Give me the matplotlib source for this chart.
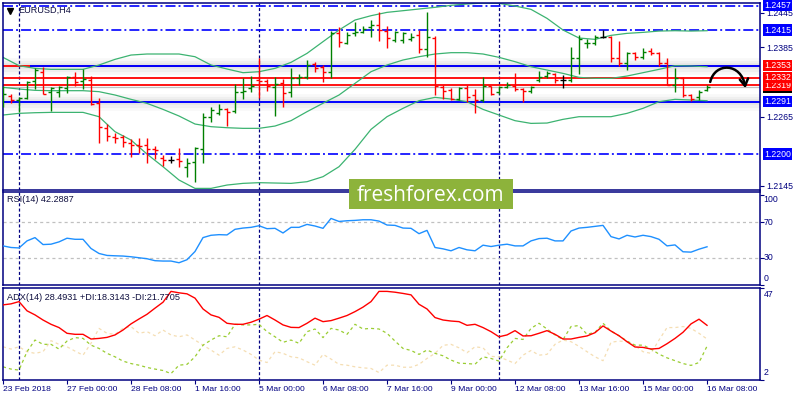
import numpy as np
import matplotlib
matplotlib.use("Agg")
import matplotlib.pyplot as plt
from matplotlib.transforms import blended_transform_factory as btf
from matplotlib.patches import Rectangle, FancyArrowPatch
from matplotlib.path import Path

plt.rcParams['font.family'] = ['Liberation Sans', 'DejaVu Sans']
plt.rcParams['lines.scale_dashes'] = False

# ---------------- data ----------------
symbol_title = "EURUSD,H4"
time_labels = ["23 Feb 2018", "27 Feb 00:00", "28 Feb 08:00", "1 Mar 16:00", "5 Mar 00:00",
               "6 Mar 08:00", "7 Mar 16:00", "9 Mar 00:00", "12 Mar 08:00", "13 Mar 16:00",
               "15 Mar 00:00", "16 Mar 08:00"]
time_label_idx = [0, 8, 16, 24, 32, 40, 48, 56, 64, 72, 80, 88]
separator_idx = [2, 32, 62]

opens = [1.22965, 1.23006, 1.22936, 1.22965, 1.23271, 1.23427, 1.23069, 1.23069, 1.23138, 1.23329,
         1.23265, 1.23283, 1.22878, 1.22456, 1.22300, 1.22300, 1.22196, 1.22156, 1.22156, 1.22081,
         1.21937, 1.21896, 1.21908, 1.21780, 1.21855, 1.22086, 1.22635, 1.22705, 1.22774, 1.22751,
         1.23081, 1.23138, 1.23283, 1.23271, 1.23156, 1.23225, 1.23069, 1.23312, 1.23329, 1.23560,
         1.23514, 1.23416, 1.24104, 1.23919, 1.24092, 1.24109, 1.24208, 1.24237, 1.24138, 1.23976,
         1.23976, 1.23988, 1.24063, 1.23815, 1.24005, 1.23167, 1.23110, 1.22953, 1.23138, 1.23023,
         1.22936, 1.23179, 1.23081, 1.23156, 1.23179, 1.23121, 1.23098, 1.23283, 1.23352, 1.23387,
         1.23283, 1.23283, 1.23659, 1.23919, 1.23919, 1.24034, 1.24034, 1.23659, 1.23572, 1.23745,
         1.23676, 1.23791, 1.23745, 1.23583, 1.23196, 1.23323, 1.23023, 1.22994, 1.23110]
highs = [1.23185, 1.23035, 1.22994, 1.23265, 1.23485, 1.23514, 1.23156, 1.23185, 1.23352, 1.23427,
         1.23468, 1.23352, 1.22965, 1.22520, 1.22370, 1.22329, 1.22254, 1.22271, 1.22271, 1.22138,
         1.21982, 1.21971, 1.22098, 1.21937, 1.22127, 1.22705, 1.22809, 1.22866, 1.22792, 1.23213,
         1.23312, 1.23352, 1.23670, 1.23294, 1.23341, 1.23306, 1.23485, 1.23387, 1.23630, 1.23601,
         1.23543, 1.24138, 1.24196, 1.24109, 1.24283, 1.24225, 1.24323, 1.24456, 1.24219, 1.24138,
         1.24121, 1.24092, 1.24150, 1.24456, 1.24046, 1.23196, 1.23138, 1.23156, 1.23196, 1.23121,
         1.23329, 1.23185, 1.23179, 1.23254, 1.23398, 1.23138, 1.23185, 1.23445, 1.23445, 1.23410,
         1.23370, 1.23849, 1.24063, 1.23988, 1.24063, 1.24150, 1.24052, 1.23965, 1.23774, 1.23774,
         1.23832, 1.23832, 1.23774, 1.23659, 1.23485, 1.23341, 1.23040, 1.23110, 1.23196]
lows = [1.22820, 1.22878, 1.22734, 1.22959, 1.23121, 1.23035, 1.22751, 1.22994, 1.23064, 1.23185,
        1.23121, 1.22849, 1.22196, 1.22231, 1.22185, 1.22127, 1.21954, 1.22011, 1.21850, 1.21908,
        1.21797, 1.21838, 1.21780, 1.21595, 1.21520, 1.21838, 1.22560, 1.22676, 1.22485, 1.22716,
        1.22948, 1.23069, 1.22965, 1.23098, 1.22664, 1.22820, 1.22994, 1.23196, 1.23300, 1.23416,
        1.23254, 1.23312, 1.23849, 1.23901, 1.24052, 1.24092, 1.24023, 1.23965, 1.23832, 1.23948,
        1.23930, 1.23965, 1.23757, 1.23676, 1.23023, 1.22948, 1.22936, 1.22936, 1.22907, 1.22705,
        1.22907, 1.23023, 1.23040, 1.23138, 1.23098, 1.22907, 1.23052, 1.23254, 1.23312, 1.23236,
        1.23138, 1.23254, 1.23387, 1.23832, 1.23890, 1.24005, 1.23589, 1.23526, 1.23456, 1.23630,
        1.23641, 1.23716, 1.23526, 1.23196, 1.23081, 1.22994, 1.22924, 1.22936, 1.23098]
closes = [1.23035, 1.22936, 1.22965, 1.23254, 1.23456, 1.23040, 1.23138, 1.23167, 1.23329, 1.23254,
          1.23294, 1.22861, 1.22474, 1.22312, 1.22283, 1.22214, 1.22156, 1.22144, 1.22081, 1.22069,
          1.21896, 1.21896, 1.21878, 1.21838, 1.22109, 1.22635, 1.22763, 1.22774, 1.22728, 1.23081,
          1.23098, 1.23179, 1.23271, 1.23185, 1.23207, 1.23052, 1.23323, 1.23341, 1.23543, 1.23485,
          1.23427, 1.24092, 1.23936, 1.24063, 1.24121, 1.24161, 1.24237, 1.24150, 1.24005, 1.24109,
          1.24092, 1.24023, 1.23815, 1.24023, 1.23179, 1.23098, 1.22953, 1.23138, 1.22994, 1.22936,
          1.23185, 1.23040, 1.23156, 1.23196, 1.23121, 1.23098, 1.23167, 1.23329, 1.23410, 1.23283,
          1.23283, 1.23670, 1.23988, 1.23930, 1.24034, 1.24034, 1.23659, 1.23572, 1.23745, 1.23676,
          1.23774, 1.23745, 1.23583, 1.23196, 1.23323, 1.23023, 1.22948, 1.23081, 1.23156]

bb_idx = list(range(0, 89, 2))
bb_upper = [1.23676, 1.23531, 1.23485, 1.23468, 1.23468, 1.23468, 1.23543, 1.23641, 1.23716, 1.23734,
            1.23734, 1.23734, 1.23687, 1.23543, 1.23474, 1.23410, 1.23427, 1.23485, 1.23589, 1.23745,
            1.23948, 1.24150, 1.24323, 1.24398, 1.24456, 1.24485, 1.24514, 1.24543, 1.24578, 1.24601,
            1.24618, 1.24612, 1.24566, 1.24508, 1.24352, 1.24150, 1.24011, 1.23988, 1.24057, 1.24092,
            1.24109, 1.24132, 1.24138, 1.24132, 1.24138]
bb_middle = [1.23156, 1.23127, 1.23104, 1.23098, 1.23098, 1.23098, 1.23081, 1.23023, 1.22948, 1.22878,
             1.22774, 1.22659, 1.22520, 1.22474, 1.22456, 1.22445, 1.22445, 1.22485, 1.22578, 1.22734,
             1.22880, 1.23023, 1.23225, 1.23427, 1.23543, 1.23630, 1.23687, 1.23734, 1.23757, 1.23757,
             1.23734, 1.23676, 1.23601, 1.23514, 1.23456, 1.23398, 1.23329, 1.23312, 1.23312, 1.23352,
             1.23410, 1.23468, 1.23531, 1.23526, 1.23514]
bb_lower = [1.22676, 1.22705, 1.22716, 1.22722, 1.22722, 1.22722, 1.22647, 1.22387, 1.22242, 1.21999,
            1.21780, 1.21549, 1.21404, 1.21404, 1.21462, 1.21491, 1.21503, 1.21497, 1.21491, 1.21520,
            1.21607, 1.21780, 1.22081, 1.22427, 1.22647, 1.22792, 1.22924, 1.22982, 1.22953, 1.22907,
            1.22774, 1.22676, 1.22578, 1.22531, 1.22537, 1.22601, 1.22647, 1.22647, 1.22647, 1.22705,
            1.22792, 1.22907, 1.22948, 1.22936, 1.22924]

rsi = [43.3, 41.5, 41.0, 48.9, 52.6, 44.8, 45.2, 47.8, 51.9, 50.7,
       50.7, 40.4, 34.8, 32.6, 32.2, 31.9, 31.1, 30.0, 28.9, 26.7,
       26.3, 26.3, 24.4, 27.8, 37.0, 52.6, 55.2, 55.9, 55.6, 61.9,
       63.3, 64.1, 65.9, 62.6, 63.0, 57.8, 64.1, 64.1, 67.4, 65.6,
       63.0, 74.1, 70.7, 71.5, 71.9, 72.6, 72.6, 71.1, 66.7, 66.3,
       63.3, 63.0, 57.0, 60.7, 41.5, 40.0, 37.8, 41.5, 38.9, 37.8,
       44.1, 42.6, 44.1, 45.2, 43.3, 43.3, 48.9, 51.5, 51.9, 48.9,
       48.9, 60.0, 63.3, 64.1, 65.2, 66.3, 53.7, 51.1, 55.2, 53.3,
       55.2, 53.7, 50.7, 43.3, 44.4, 36.7, 36.3, 39.6, 42.3]
rsi_levels = [70, 30]
rsi_label = "RSI(14) 42.2887"

adx = [38.5, 39.0, 40.1, 35.6, 33.6, 31.1, 29.0, 27.4, 24.6, 24.1,
       24.1, 21.8, 22.1, 22.6, 23.8, 26.2, 29.2, 31.6, 33.9, 36.9,
       39.8, 45.1, 44.4, 43.9, 41.8, 36.5, 33.6, 32.4, 29.5, 29.0,
       29.0, 30.0, 31.5, 33.3, 31.1, 28.7, 27.5, 27.4, 29.5, 32.0,
       30.3, 30.8, 32.0, 33.3, 35.2, 37.4, 40.1, 45.1, 45.1, 44.7,
       44.1, 43.4, 38.8, 36.5, 32.3, 31.1, 30.6, 30.3, 28.5, 29.0,
       27.4, 25.4, 22.9, 23.8, 25.9, 23.3, 23.4, 24.6, 25.9, 24.1,
       21.8, 21.8, 22.6, 23.3, 24.9, 28.2, 25.7, 23.4, 20.5, 17.9,
       17.7, 16.9, 17.2, 19.5, 22.1, 25.1, 29.2, 31.5, 28.5]
plus_di = [8.2, 7.1, 6.6, 15.6, 21.3, 19.2, 19.2, 16.9, 20.8, 22.5,
           22.1, 18.8, 17.2, 14.8, 13.1, 11.0, 9.8, 9.0, 7.9, 7.1,
           6.4, 4.9, 9.0, 9.4, 13.1, 18.8, 21.3, 23.4, 22.9, 29.0,
           28.7, 28.7, 29.0, 25.4, 22.9, 20.2, 21.3, 19.7, 25.4, 26.7,
           22.5, 27.0, 26.2, 24.1, 29.0, 26.7, 27.0, 26.7, 24.6, 20.8,
           17.2, 16.2, 14.3, 16.4, 14.8, 13.6, 11.5, 10.0, 9.8, 9.5,
           13.1, 12.3, 11.0, 17.5, 22.1, 21.6, 27.0, 29.5, 26.7, 23.8,
           21.5, 27.9, 28.4, 24.1, 25.1, 29.5, 25.7, 23.4, 20.8, 18.8,
           18.8, 16.9, 14.4, 12.6, 11.2, 9.8, 8.9, 10.3, 18.3]
minus_di = [18.0, 16.9, 18.0, 15.6, 14.8, 15.6, 21.0, 19.2, 18.0, 15.9,
            13.9, 19.7, 27.0, 24.6, 24.1, 27.0, 27.9, 24.6, 25.4, 23.4,
            26.2, 23.8, 22.9, 23.8, 21.3, 18.8, 16.4, 13.9, 17.2, 18.0,
            16.4, 14.3, 11.5, 10.3, 15.6, 14.8, 13.1, 12.6, 10.7, 9.0,
            14.3, 12.0, 9.4, 9.0, 8.2, 7.7, 7.4, 5.4, 9.0, 9.0,
            8.0, 8.0, 9.4, 12.3, 14.8, 18.7, 19.2, 17.5, 15.1, 18.0,
            17.5, 13.3, 13.1, 11.5, 9.8, 13.9, 16.2, 13.9, 14.3, 19.2,
            21.3, 20.5, 18.2, 15.6, 13.1, 11.2, 20.2, 20.8, 20.5, 18.5,
            15.6, 14.8, 21.3, 27.4, 27.4, 27.9, 27.0, 24.6, 21.8]
adx_label = "ADX(14) 28.4931 +DI:18.3143 -DI:21.7705"

levels_dashdot = [1.2457, 1.2415, 1.2200]
levels_blue = [1.2353, 1.2291]
levels_red = [1.2353, 1.2332, 1.2319]
price_ticks = [1.2445, 1.2385, 1.2265, 1.2145]
boxed_levels = [1.2457, 1.2415, 1.2291, 1.2200, 1.2353, 1.2319, 1.2332]
boxed_colors = ['#0000FF', '#0000FF', '#0000FF', '#0000FF', '#FF0000', '#FF0000', '#FF0000']

# ---------------- layout ----------------
W, H = 800, 400
NAVY = '#000080'
fig = plt.figure(figsize=(8, 4), dpi=100)
fig.patch.set_facecolor('white')


def rect(x0, y0, x1, y1):
    return [x0 / W, 1 - y1 / H, (x1 - x0) / W, (y1 - y0) / H]


ax = fig.add_axes(rect(2.5, 2.5, 759.5, 190))
ax_r = fig.add_axes(rect(2.5, 191.5, 759.5, 284.5))
ax_a = fig.add_axes(rect(2.5, 287.5, 759.5, 379.5))

XL = (-0.0625, 94.56)
for a in (ax, ax_r, ax_a):
    a.set_xlim(*XL)
    for s in a.spines.values():
        s.set_color(NAVY)
        s.set_linewidth(1.1)
    a.set_xticks([])
    a.set_facecolor('white')
    for s in separator_idx:
        a.axvline(s, color=NAVY, lw=0.9, ls=(0, (2.2, 1.6)), zorder=1)

ax.set_ylim(1.21376, 1.24627)
ax_r.set_ylim(0, 104.3)
ax_a.set_ylim(2, 47)

# ---------------- main panel ----------------
x = np.arange(len(opens))
o = np.array(opens); h = np.array(highs); l = np.array(lows); c = np.array(closes)
cols = np.where(c > o, '#008000', np.where(c < o, '#FF0000', '#000000'))

# horizontal levels
for p in levels_blue:
    for w, al in [(12, 0.05), (8, 0.07), (4, 0.09)]:
        ax.axhline(p, color='#808080', lw=w, alpha=al, zorder=1)
ax.axhline(closes[-1], color='#C0C0C0', lw=0.9, zorder=1.5)
for p in levels_red:
    ax.axhline(p, color='#FF0000', lw=1.3, zorder=2)
ax.hlines(levels_blue[0], 3.4, XL[1], color='#0000FF', lw=1.4, zorder=2.1)
ax.axhline(levels_blue[1], color='#0000FF', lw=1.4, zorder=2.1)
for p in levels_dashdot:
    ax.axhline(p, color='#0000FF', lw=1.2, ls=(0, (7.2, 2.2, 1.4, 2.2)), zorder=2)

# Bollinger bands
for band in (bb_upper, bb_middle, bb_lower):
    ax.plot(bb_idx, band, color='#3CB371', lw=0.9, zorder=2.5)

# OHLC bars
ax.vlines(x, l, h, colors=cols, lw=1.0, zorder=3)
ax.hlines(o, x - 0.375, x, colors=cols, lw=1.0, zorder=3)
ax.hlines(c, x, x + 0.375, colors=cols, lw=1.0, zorder=3)

# curved hand-drawn arrow
arrow_path = Path([(88.4, 1.2325), (89.0, 1.2360), (92.3, 1.2358), (92.8, 1.2314)],
                  [Path.MOVETO, Path.CURVE4, Path.CURVE4, Path.CURVE4])
arr = FancyArrowPatch(path=arrow_path, arrowstyle='->,head_length=5,head_width=3',
                      color='black', lw=1.8, mutation_scale=1, zorder=6)
ax.add_patch(arr)

# title
ax.plot([7.0 / 757], [1 - 8.0 / 187.5], marker='v', ms=4, color='black',
        transform=ax.transAxes, clip_on=False, zorder=7)
ax.text(15.5 / 757, 1 - 7.5 / 187.5, symbol_title, transform=ax.transAxes, fontsize=6.6,
        color='#101040', va='center', ha='left', zorder=7)

# right price scale
ax.yaxis.tick_right()
ax.set_yticks(price_ticks)
ax.set_yticklabels([f'{p:.4f}' for p in price_ticks])
ax.tick_params(axis='y', length=3, color=NAVY, labelcolor=NAVY, labelsize=6.3, pad=2, width=0.8)
tr = btf(ax.transAxes, ax.transData)
ax.text(1 + 4.5 / 757, closes[-1], f'{closes[-1]:.4f}', transform=tr, ha='left', va='center',
        color='white', fontsize=6.3, clip_on=False, zorder=8,
        bbox=dict(boxstyle='square,pad=0.12', fc='black', ec='none'))
for i, (p, col) in enumerate(zip(boxed_levels, boxed_colors)):
    ax.text(1 + 4.5 / 757, p, f'{p:.4f}', transform=tr, ha='left', va='center',
            color='white', fontsize=6.3, clip_on=False, zorder=9 + i,
            bbox=dict(boxstyle='square,pad=0.12', fc=col, ec='none'))

# ---------------- RSI panel ----------------
for lv in rsi_levels:
    ax_r.axhline(lv, color='#C0C0C0', lw=0.9, ls=(0, (2.2, 2.2)), zorder=1)
ax_r.plot(np.arange(len(rsi)), rsi, color='#1E90FF', lw=1.0, zorder=3)
ax_r.text(4.5 / 757, 1 - 8.5 / 93, rsi_label, transform=ax_r.transAxes, fontsize=6.6,
          color='#101040', va='center', ha='left')
ax_r.yaxis.tick_right()
ax_r.set_yticks([100, 70, 30, 0])
ax_r.set_yticklabels([])
ax_r.tick_params(axis='y', length=3, color=NAVY, width=0.8)
trr = btf(ax_r.transAxes, ax_r.transData)
for val, pos in zip(['100', '70', '30', '0'], [95.5, 70, 30, 7]):
    ax_r.text(1 + 4 / 757, pos, val, transform=trr, ha='left', va='center', fontsize=6.3,
              color=NAVY, clip_on=False)

# ---------------- ADX panel ----------------
xa = np.arange(len(adx))
ax_a.plot(xa, minus_di, color='#F5DEB3', lw=0.9, ls=(0, (2.2, 2.2)), zorder=2)
ax_a.plot(xa, plus_di, color='#9ACD32', lw=0.9, ls=(0, (2.2, 2.2)), zorder=2.5)
ax_a.plot(xa, adx, color='#FF0000', lw=1.0, zorder=3)
ax_a.text(4.5 / 757, 1 - 9.5 / 92, adx_label, transform=ax_a.transAxes, fontsize=6.6,
          color='#101040', va='center', ha='left')
ax_a.yaxis.tick_right()
ax_a.set_yticks([47, 2])
ax_a.set_yticklabels([])
ax_a.tick_params(axis='y', length=3, color=NAVY, width=0.8)
tra = btf(ax_a.transAxes, ax_a.transData)
for val, pos in zip(['47', '2'], [43.4, 5.6]):
    ax_a.text(1 + 4 / 757, pos, val, transform=tra, ha='left', va='center', fontsize=6.3,
              color=NAVY, clip_on=False)

ax_a.set_xticks(time_label_idx)
ax_a.set_xticklabels(time_labels)
ax_a.tick_params(axis='x', length=3, color=NAVY, labelcolor=NAVY, labelsize=6.1, pad=1.5, width=0.8)
for lbl in ax_a.get_xticklabels():
    lbl.set_horizontalalignment('left')

# ---------------- watermark ----------------
fig.add_artist(Rectangle((349 / W, 1 - 209 / H), 164 / W, 30 / H, transform=fig.transFigure,
                         fc='#8DB33B', ec='none', zorder=20))
fig.text(431 / W, 1 - 195 / H, 'freshforex.com', fontsize=15, family=['Open Sans', 'DejaVu Sans'],
         color='white', ha='center', va='center', zorder=21)

fig.savefig('out.png', dpi=100, facecolor='white')
